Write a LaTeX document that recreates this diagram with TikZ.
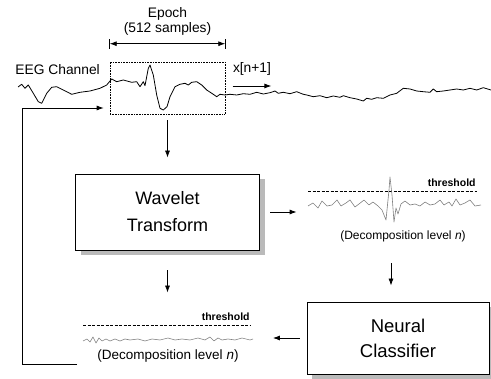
\documentclass[tikz,border=0pt]{standalone}
\usepackage{fontspec}
\setmainfont{Liberation Sans}
\usetikzlibrary{positioning,arrows.meta,shadows}

\begin{document}
\begin{tikzpicture}
  [x=1pt, y=-1pt,
   box/.style={rectangle, draw, fill=white, line width=0.8pt,
     minimum width=184pt, minimum height=76pt, align=center,
     font=\fontsize{18}{27}\selectfont,
     drop shadow={shadow xshift=5pt, shadow yshift=-5pt,
       fill=black!27, opacity=1}},
   panel/.style={rectangle, inner sep=0pt,
     minimum width=174pt, minimum height=56pt},
   lbl/.style={font=\fontsize{13.8}{15}\selectfont, inner sep=0pt},
   thr/.style={font=\bfseries\fontsize{10.5}{11}\selectfont, inner sep=0pt},
   lvl/.style={font=\fontsize{12}{14}\selectfont, inner sep=0pt},
   wave/.style={line width=0.8pt, line join=round},
   subwave/.style={black!50, line width=0.6pt, line join=round},
   cut/.style={dash pattern=on 3pt off 1.5pt, line width=0.6pt},
   >={Latex[length=7pt,width=5pt]}, line width=0.8pt]

  \useasboundingbox (0,0) rectangle (491,379);

  % epoch window on the channel
  \node[draw, densely dotted, line width=0.6pt, inner sep=0pt,
    minimum width=115pt, minimum height=52pt] (epoch) at (167.5,88) {};
  \node[lbl, align=center] (eplabel) at (167.5,21) {Epoch\\(512 samples)};
  \draw[<->] ([yshift=18pt]epoch.north west) -- ([yshift=18pt]epoch.north east);
  \draw ([yshift=13pt]epoch.north west) -- ([yshift=23pt]epoch.north west);
  \draw ([yshift=13pt]epoch.north east) -- ([yshift=23pt]epoch.north east);

  \node[lbl, anchor=west] (eeg) at (15,70) {EEG Channel};
  \node[lbl] (xnext) at (252,69) {x[n+1]};
  \draw[->] (xnext.west |- 0,86) -- (xnext.east |- 0,86);

  % EEG signal
  \draw[wave] plot coordinates {(18,87) (21.7,84.3) (25,88.3) (28.3,85)
    (33.3,93.3) (38.3,101.7) (41.7,103.3) (46.7,93.3) (51.7,87.3)
    (56.7,86.7) (63.3,90) (71.7,94.3) (80,92.3) (90,91) (100,88.3)
    (106.7,85) (111.7,79) (116.7,81.7) (123.3,80) (131.7,82.3)
    (136.7,81.7) (140,86.7) (143.3,81.7) (145,85.7) (148.3,68.3)
    (150,65) (153.3,75) (156.7,95) (160,108.3) (163.3,110) (167,106.7)
    (170,96.7) (175,86.7) (180,84.3) (185,83.3) (188.3,85) (191.7,82.3)
    (196.7,81.7) (201.7,85) (206.7,90) (213.3,94.3) (216.7,96.7)
    (220,94.3) (225,95) (230,94.3) (236.7,95) (243.3,93.7) (250,94.3)
    (256.7,92.3) (263.3,94) (270,92.7) (275,91) (278.3,93.3)
    (283.3,92.3) (290,93.7) (296.7,91.7) (303.3,94.3) (306.7,95)
    (313.3,96.7) (320,95.7) (326.7,97.7) (333.3,96) (340,97.3)
    (343.3,95.7) (350,97.7) (356.7,99) (363.3,101) (366.7,98.3)
    (371.7,99.3) (376.7,97.7) (383.3,98.3) (390,95) (396.7,93.3)
    (403.3,88.3) (410,89) (416.7,91) (423.3,91.7) (430,92.3) (433.3,89)
    (436.7,91.7) (443.3,91) (450,90) (456.7,89) (463.3,90) (470,88.3)
    (476.7,90) (483.3,87.7) (491,90)};

  % blocks
  \node[box] (wt) at (167.5,212) {Wavelet\\Transform};
  \node[box, minimum width=182pt, minimum height=72pt,
    font=\fontsize{18.5}{25}\selectfont] (nc) at (398,338) {Neural\\Classifier};

  % decomposition panels
  \node[panel] (panelR) at (394.5,212) {};
  \node[panel, minimum width=170pt, minimum height=52pt] (panelL) at (167.5,338) {};

  \draw[cut] (308,191) -- (477,191);
  \node[thr, anchor=base east] (thrR) at (476,187) {threshold};
  \draw[subwave] plot coordinates {(308,206) (313,203) (318,208) (322,201)
    (327,206) (332,205) (337,200) (341,206) (346,203) (350,200) (355,207)
    (359,204) (364,200) (369,205) (373,202) (378,206) (382,210) (386,220)
    (389,190) (390,177) (392,195) (394,222) (396,208) (398,214) (401,204)
    (405,201) (410,205) (415,204) (420,206) (425,202) (430,205) (435,204)
    (440,200) (444,205) (449,202) (452,206) (456,199) (460,205) (465,203)
    (470,200) (475,206) (481,205)};
  \node[lvl] (lvlR) at (403,236) {(Decomposition level \textit{n})};

  \draw[cut] (83,325) -- (250,325);
  \node[thr, anchor=base east] (thrL) at (250,321) {threshold};
  \draw[subwave] plot coordinates {(83,341) (87,339) (90,342) (93,337)
    (96,343) (99,338) (102,341) (106,339) (110,341) (115,339) (120,341)
    (125,339) (130,340) (138,339) (145,341) (152,339) (160,340) (168,338)
    (175,340) (182,339) (190,340) (198,338) (205,340) (210,337) (214,341)
    (218,338) (222,340) (228,339) (235,340) (242,338) (250,340) (253,339)};
  \node[lvl, font=\fontsize{13.5}{15}\selectfont] (lvlL) at (168,356)
    {(Decomposition level \textit{n})};

  % connectors
  \coordinate (dn) at ([xshift=-3.5pt]panelR.south);
  \path[->]
    (epoch)  edge[shorten <=6pt, shorten >=16pt] (wt)
    (wt)     edge[shorten <=10.5pt, shorten >=10.5pt] (panelR)
    (dn)     edge[shorten <=23pt, shorten >=16pt] (dn |- nc.north)
    (nc)     edge[shorten <=7pt, shorten >=20pt] (panelL)
    (wt)     edge[shorten <=20pt, shorten >=19pt] (panelL);
  \draw[->, shorten <=5pt, shorten >=6pt]
    (panelL.south west) -- ++(-60,0) |- ([yshift=-20pt]epoch.west);
\end{tikzpicture}
\end{document}
